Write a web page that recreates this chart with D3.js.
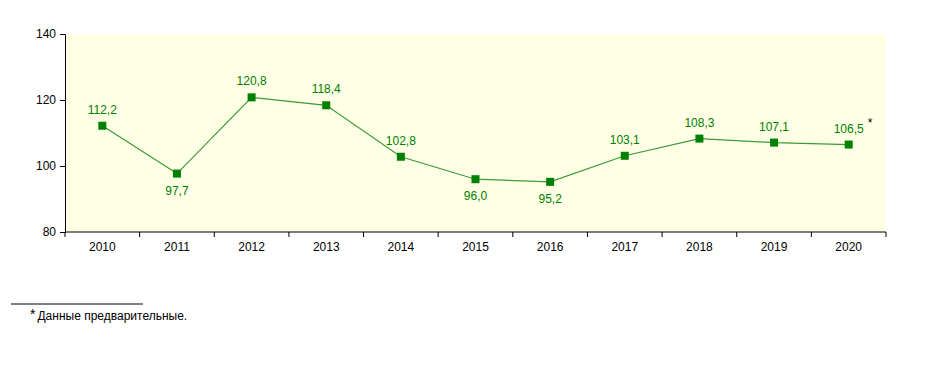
<!DOCTYPE html>
<html>
<head>
<meta charset="utf-8">
<style>
body { margin: 0; background: #fff; }
svg { display: block; font-family: Arial, "Liberation Sans", sans-serif; }
</style>
</head>
<body>
<div id="chart"></div>
<script src="https://d3js.org/d3.v7.min.js"></script>
<script>
// data
var years = ["2010", "2011", "2012", "2013", "2014", "2015", "2016", "2017", "2018", "2019", "2020"];
var values = [112.2, 97.7, 120.8, 118.4, 102.8, 96.0, 95.2, 103.1, 108.3, 107.1, 106.5];
var below = [false, true, false, false, false, true, true, false, false, false, false];
var yTicks = [80, 100, 120, 140];

var W = 926, H = 371;
var margin = { top: 34, right: 40, bottom: 139, left: 65 };
var width = W - margin.left - margin.right;
var height = H - margin.top - margin.bottom;

var svg = d3.select("#chart").append("svg")
  .attr("width", W).attr("height", H);

var g = svg.append("g")
  .attr("transform", "translate(" + margin.left + "," + margin.top + ")");

var x = d3.scaleBand().domain(years).range([0, width]);
var y = d3.scaleLinear().domain([80, 140]).range([height, 0]);

// plot background
g.append("rect")
  .attr("width", width).attr("height", height)
  .attr("fill", "#ffffe5");

// y axis
var yAxis = g.append("g")
  .call(d3.axisLeft(y).tickValues(yTicks).tickSize(5).tickPadding(4));
yAxis.selectAll("text").attr("font-size", 12).attr("fill", "#000")
  .attr("font-family", "Arial, 'Liberation Sans', sans-serif");
yAxis.select(".domain").attr("stroke", "#000");

// x axis: ticks between categories
var xAxis = g.append("g").attr("transform", "translate(0," + height + ")");
xAxis.append("line").attr("x1", 0).attr("x2", width).attr("stroke", "#000");
var edges = years.map(function(d) { return x(d); }).concat([width]);
xAxis.selectAll(".tk").data(edges).enter().append("line")
  .attr("x1", function(d) { return d; }).attr("x2", function(d) { return d; })
  .attr("y1", 0).attr("y2", 5).attr("stroke", "#000");
xAxis.selectAll(".lbl").data(years).enter().append("text")
  .attr("x", function(d) { return x(d) + x.bandwidth() / 2; })
  .attr("y", 19)
  .attr("text-anchor", "middle")
  .attr("font-size", 12)
  .text(function(d) { return d; });

var pts = years.map(function(d, i) { return { year: d, v: values[i], below: below[i] }; });

var line = d3.line()
  .x(function(d) { return x(d.year) + x.bandwidth() / 2; })
  .y(function(d) { return y(d.v); });

g.append("path").datum(pts)
  .attr("fill", "none")
  .attr("stroke", "#3a9a3a")
  .attr("stroke-width", 1.2)
  .attr("d", line);

g.selectAll(".mk").data(pts).enter().append("rect")
  .attr("x", function(d) { return x(d.year) + x.bandwidth() / 2 - 4; })
  .attr("y", function(d) { return y(d.v) - 4; })
  .attr("width", 8).attr("height", 8)
  .attr("fill", "#008000");

var fmt = function(v) { return v.toFixed(1).replace(".", ","); };

g.selectAll(".vl").data(pts).enter().append("text")
  .attr("x", function(d) { return x(d.year) + x.bandwidth() / 2; })
  .attr("y", function(d) { return d.below ? y(d.v) + 21 : y(d.v) - 12; })
  .attr("text-anchor", "middle")
  .attr("font-size", 12)
  .attr("fill", "#008000")
  .text(function(d) { return fmt(d.v); });

// asterisk after last value
var last = pts[pts.length - 1];
g.append("text")
  .attr("x", x(last.year) + x.bandwidth() / 2 + 19)
  .attr("y", y(last.v) - 18)
  .attr("font-size", 12)
  .attr("fill", "#000")
  .text("*");

// footnote
svg.append("line")
  .attr("x1", 11).attr("x2", 143).attr("y1", 304).attr("y2", 304)
  .attr("stroke", "#000");
svg.append("text")
  .attr("x", 30).attr("y", 320)
  .attr("font-size", 12)
  .text("* Данные предварительные.")
  .call(function(t) {
    t.text("");
    t.append("tspan").attr("font-size", 14).attr("dy", -1).text("*");
    t.append("tspan").attr("dy", 1).attr("dx", 2).text("Данные предварительные.");
  });
</script>
</body>
</html>
